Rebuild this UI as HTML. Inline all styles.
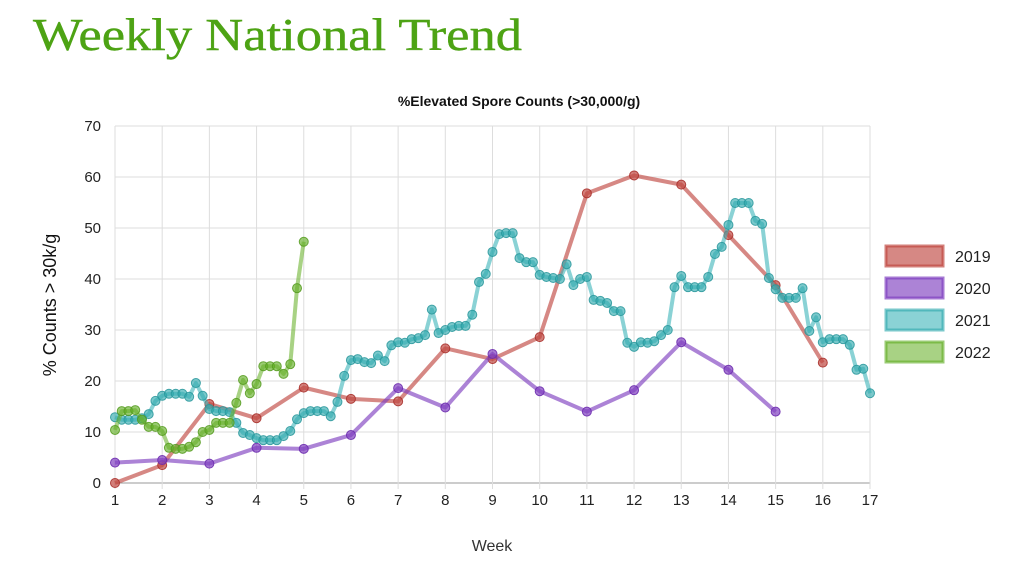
<!DOCTYPE html>
<html><head><meta charset="utf-8"><style>
html,body{margin:0;padding:0;background:#fff;width:1010px;height:564px;overflow:hidden}
</style></head><body>
<svg id="chart" width="1010" height="564" xmlns="http://www.w3.org/2000/svg" font-family="Liberation Sans, sans-serif">
<text x="33" y="50" font-family="Liberation Serif, serif" font-size="46" fill="#4da314" stroke="#4da314" stroke-width="0.4" textLength="489" lengthAdjust="spacingAndGlyphs">Weekly National Trend</text>
<text x="519" y="106" text-anchor="middle" font-size="14" font-weight="bold" fill="#111">%Elevated Spore Counts (&gt;30,000/g)</text>
<text transform="translate(56,305) rotate(-90)" text-anchor="middle" font-size="18" fill="#111">% Counts &gt; 30k/g</text>
<text x="492" y="551" text-anchor="middle" font-size="16" fill="#333">Week</text>
<g id="grid"></g><g id="series"></g><g id="legend"></g>
</svg>
<script>
const weeks=[1,2,3,4,5,6,7,8,9,10,11,12,13,14,15,16,17];
const yTicks=[0,10,20,30,40,50,60,70];
const seriesNames=["2019","2020","2021","2022"];
const v2019=[0,3.5,15.5,12.7,18.7,16.5,16,26.4,24.3,28.6,56.8,60.3,58.5,48.6,38.8,23.6];
const v2020=[4,4.5,3.8,6.9,6.7,9.4,18.6,14.8,25.3,18,14,18.2,27.6,22.2,14];
const v2021=[12.9,12.4,12.4,12.4,12.7,13.5,16.1,17.1,17.5,17.5,17.5,16.9,19.6,17.1,14.5,14.1,14.1,13.9,11.8,9.8,9.4,8.8,8.4,8.4,8.4,9.2,10.2,12.5,13.7,14.1,14.1,14.1,13.1,15.9,21,24.1,24.3,23.7,23.5,25,23.9,27,27.6,27.5,28.2,28.4,29,34,29.4,30,30.6,30.8,30.8,33,39.4,41,45.3,48.8,49,49,44.1,43.3,43.3,40.8,40.4,40.2,40,42.9,38.8,40,40.4,35.9,35.7,35.3,33.7,33.7,27.5,26.7,27.6,27.5,27.8,29,30,38.4,40.6,38.4,38.4,38.4,40.4,44.9,46.3,50.6,54.9,54.9,54.9,51.4,50.8,40.2,38,36.3,36.3,36.3,38.2,29.8,32.5,27.6,28.2,28.2,28.2,27.1,22.2,22.4,17.6];
const v2022=[10.4,14.1,14.1,14.3,12.4,11,11,10.2,6.9,6.7,6.7,7.1,8,10,10.4,11.8,11.8,11.8,15.7,20.2,17.6,19.4,22.9,22.9,22.9,21.4,23.3,38.2,47.3];
const NS="http://www.w3.org/2000/svg";
const X0=115,X1=870,Y0=483,Y1=126;
const xs=w=>X0+(w-1)*(X1-X0)/16;
const ys=v=>Y0-v*(Y0-Y1)/70;
function mk(tag,attrs,parent){const e=document.createElementNS(NS,tag);for(const k in attrs)e.setAttribute(k,attrs[k]);parent.appendChild(e);return e;}
const grid=document.getElementById('grid');
yTicks.forEach(t=>{
  const l=mk('line',{x1:X0,x2:X1,y1:ys(t),y2:ys(t),stroke:t===0?'#999':'#ddd','stroke-width':1},grid);
  
  
  const tx=mk('text',{x:101,y:ys(t)+5,'text-anchor':'end','font-size':15,fill:'#222'},grid);
  tx.textContent=t;
  
  
});
weeks.forEach(w=>{
  const l=mk('line',{x1:xs(w),x2:xs(w),y1:Y1,y2:Y0+6,stroke:'#ddd','stroke-width':1},grid);
  
  
  const tx=mk('text',{x:xs(w),y:Y0+22,'text-anchor':'middle','font-size':15,fill:'#222'},grid);
  tx.textContent=w;
  
  
});
const colors=[['rgba(192,72,66,0.65)','rgba(192,72,66,0.7)','rgba(170,50,45,0.9)'],['rgba(128,64,192,0.65)','rgba(128,64,192,0.7)','rgba(110,45,175,0.9)'],['rgba(60,180,185,0.6)','rgba(50,170,175,0.65)','rgba(40,150,155,0.85)'],['rgba(110,180,50,0.6)','rgba(100,175,40,0.65)','rgba(85,155,30,0.85)']];
const sg=document.getElementById('series');
function draw(vals,step,ci,name){
  const g=mk('g',{},sg);
  
  
  const pts=vals.map((v,i)=>[xs(1+i*step),ys(v)]);
  const p=mk('polyline',{points:pts.map(q=>q.join(',')).join(' '),fill:'none',stroke:colors[ci][0],'stroke-width':4,'stroke-linejoin':'round'},g);
  
  
  pts.forEach(q=>{
    const c=mk('circle',{cx:q[0],cy:q[1],r:4.5,fill:colors[ci][1],stroke:colors[ci][2],'stroke-width':1},g);
    
    
  });
}
draw(v2019,1,0,'2019');
draw(v2020,1,1,'2020');
draw(v2021,1/7,2,'2021');
draw(v2022,1/7,3,'2022');
const lg=document.getElementById('legend');
seriesNames.forEach((n,i)=>{
  const y=246+i*32;
  const r=mk('rect',{x:886,y:y,width:57,height:20,fill:colors[i][0],stroke:colors[i][1],'stroke-width':3},lg);
  
  
  const t=mk('text',{x:955,y:y+16,'font-size':16,fill:'#222'},lg);
  t.textContent=n;
  
  
});
</script>
</body></html>
